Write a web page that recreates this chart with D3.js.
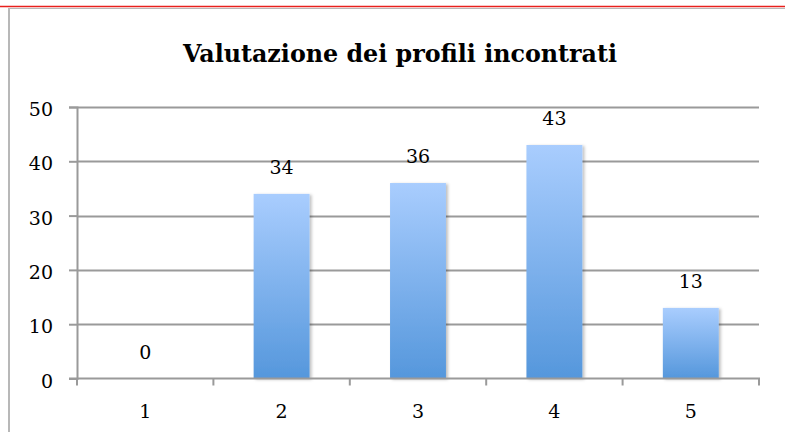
<!DOCTYPE html>
<html>
<head>
<meta charset="utf-8">
<script src="https://cdn.jsdelivr.net/npm/d3@7"></script>
<style>
  body { margin: 0; background: #fff; }
  svg { display: block; }
</style>
</head>
<body>
<div id="vis"></div>
<script>
//-- Setup
var width = 785;
var height = 432;

var categories = ["1", "2", "3", "4", "5"];
var values = [0, 34, 36, 43, 13];
var yTicks = [0, 10, 20, 30, 40, 50];
var title = "Valutazione dei profili incontrati";

var margin = { top: 107, right: 26, bottom: 54, left: 77 };
var fontFamily = "DejaVu Serif, serif";

var svg = d3.select("#vis").append("svg")
  .attr("width", width)
  .attr("height", height);

// gradient for the bars
var defs = svg.append("defs");
var grad = defs.append("linearGradient")
  .attr("id", "barGrad")
  .attr("x1", 0).attr("y1", 0).attr("x2", 0).attr("y2", 1);
grad.append("stop").attr("offset", "0%").attr("stop-color", "#a9cdfe");
grad.append("stop").attr("offset", "100%").attr("stop-color", "#5597dc");

var shadow = defs.append("filter").attr("id", "shadow")
  .attr("x", "-20%").attr("y", "-20%").attr("width", "150%").attr("height", "150%");
shadow.append("feDropShadow")
  .attr("dx", 2).attr("dy", 1).attr("stdDeviation", 1.5)
  .attr("flood-color", "#000").attr("flood-opacity", 0.25);

// page borders (frame of the embedded chart)
svg.append("line")
  .attr("x1", 0).attr("x2", width).attr("y1", 6.5).attr("y2", 6.5)
  .attr("stroke", "#e8201c").attr("stroke-width", 1.5);
svg.append("line")
  .attr("x1", 8).attr("x2", width).attr("y1", 8.5).attr("y2", 8.5)
  .attr("stroke", "#b8b8b8").attr("stroke-width", 1);
svg.append("line")
  .attr("x1", 9).attr("x2", 9).attr("y1", 8).attr("y2", height)
  .attr("stroke", "#b8b8b8").attr("stroke-width", 2);

var x = d3.scaleBand()
  .domain(categories)
  .range([margin.left, width - margin.right])
  .paddingInner(0.59)
  .paddingOuter(0.295);

var y = d3.scaleLinear()
  .domain([0, 50])
  .range([height - margin.bottom + 0.5, margin.top]);

// title
svg.append("text")
  .attr("x", 400)
  .attr("y", 62)
  .attr("text-anchor", "middle")
  .attr("textLength", 434)
  .attr("lengthAdjust", "spacingAndGlyphs")
  .style("font-family", fontFamily)
  .style("font-weight", "bold")
  .style("font-size", "24px")
  .text(title);

// gridlines
svg.append("g")
  .selectAll("line")
  .data(yTicks.slice(1))
  .enter()
  .append("line")
  .attr("x1", margin.left)
  .attr("x2", width - margin.right)
  .attr("y1", function (d) { return Math.round(y(d)) + 0.5; })
  .attr("y2", function (d) { return Math.round(y(d)) + 0.5; })
  .attr("stroke", "#9a9a9a")
  .attr("stroke-width", 2);

// y axis
var yAxis = svg.append("g")
  .attr("transform", "translate(" + margin.left + ",0)")
  .call(d3.axisLeft(y).tickValues(yTicks).tickSize(8).tickPadding(16));
yAxis.attr("font-family", null).attr("font-size", null);
yAxis.select(".domain").attr("stroke", "#9a9a9a").attr("stroke-width", 2);
yAxis.selectAll(".tick line").attr("stroke", "#9a9a9a").attr("stroke-width", 2);
yAxis.selectAll(".tick text")
  .style("font-family", fontFamily)
  .style("font-size", "19px")
  .attr("dy", "0.45em")
  .attr("fill", "#000");

// bars
svg.append("g")
  .selectAll("rect")
  .data(values)
  .enter()
  .append("rect")
  .attr("x", function (d, i) { return x(categories[i]); })
  .attr("y", function (d) { return y(d); })
  .attr("width", x.bandwidth())
  .attr("height", function (d) { return y(0) - y(d); })
  .attr("fill", "url(#barGrad)")
  .attr("filter", "url(#shadow)");

// x axis
var xAxis = svg.append("g")
  .attr("transform", "translate(0," + y(0) + ")");
xAxis.append("line")
  .attr("x1", margin.left - 8).attr("x2", width - margin.right + 1)
  .attr("stroke", "#9a9a9a").attr("stroke-width", 2);
var xEdges = d3.range(categories.length + 1).map(function (i) {
  return margin.left + i * x.step();
});
xAxis.selectAll(".xtick")
  .data(xEdges)
  .enter()
  .append("line")
  .attr("class", "xtick")
  .attr("x1", function (d) { return d; })
  .attr("x2", function (d) { return d; })
  .attr("y1", 0).attr("y2", 7)
  .attr("stroke", "#9a9a9a").attr("stroke-width", 2);
xAxis.selectAll(".xlabel")
  .data(categories)
  .enter()
  .append("text")
  .attr("class", "xlabel")
  .attr("x", function (d) { return x(d) + x.bandwidth() / 2; })
  .attr("y", 39)
  .attr("text-anchor", "middle")
  .style("font-family", fontFamily)
  .style("font-size", "19px")
  .text(function (d) { return d; });

// value labels
svg.append("g")
  .selectAll("text")
  .data(values)
  .enter()
  .append("text")
  .attr("x", function (d, i) { return x(categories[i]) + x.bandwidth() / 2; })
  .attr("y", function (d) { return y(d) - 20; })
  .attr("text-anchor", "middle")
  .style("font-family", fontFamily)
  .style("font-size", "19px")
  .text(function (d) { return d; });
</script>
</body>
</html>
